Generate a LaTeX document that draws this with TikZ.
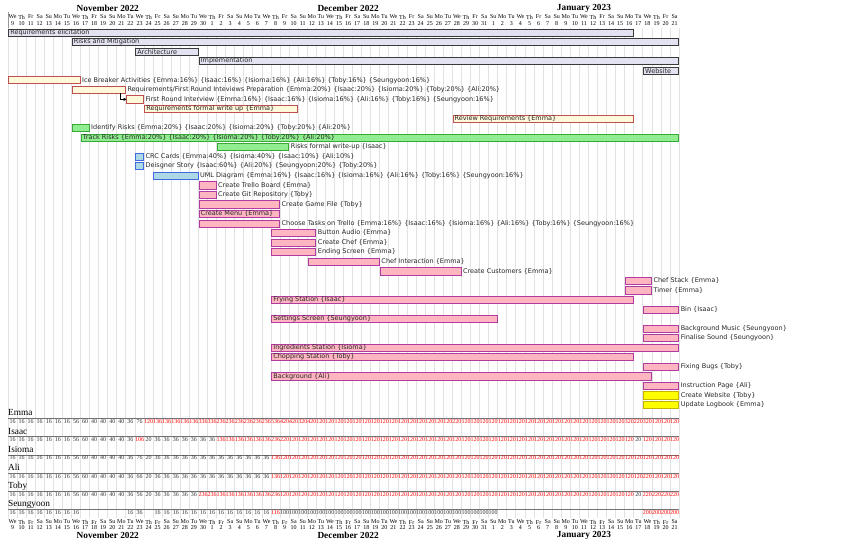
\documentclass[tikz,border=0pt]{standalone}
\usepackage{fontspec}
\setmainfont[Ligatures={NoCommon,NoRare}]{Liberation Serif}
\newfontfamily\ganttfont{DejaVu Sans}
\usetikzlibrary{arrows.meta, positioning}
\definecolor{grpfill}{HTML}{E2E2F0}
\definecolor{grpdraw}{HTML}{3A3A3A}
\definecolor{reqfill}{HTML}{FFF9DC}
\definecolor{reqdraw}{HTML}{C05050}
\definecolor{riskfill}{HTML}{90EE90}
\definecolor{riskdraw}{HTML}{38A838}
\definecolor{dsnfill}{HTML}{ADD8E6}
\definecolor{dsndraw}{HTML}{4169E1}
\definecolor{implfill}{HTML}{FFB6C1}
\definecolor{impldraw}{HTML}{B03CA0}
\definecolor{webfill}{HTML}{FFFF00}
\definecolor{webdraw}{HTML}{C8B400}
\definecolor{gridgray}{HTML}{E2E2E2}
\definecolor{loadred}{HTML}{FF0000}
\definecolor{loadgray}{HTML}{333333}

% one row of daily loads: name, y, values (0 = empty)
\newcommand{\loadrow}[3]{%
  \foreach \v [count=\i from 0] in {#3}{%
    \ifnum\v>0
      \ifnum\v>100 \def\lc{loadred}\else\def\lc{loadgray}\fi
      \node[ld, text=\lc] (#1\i) at (\i+0.5,#2) {\v};
    \fi}}

\begin{document}
\begin{tikzpicture}[
  x=9.07pt, y=-9.55pt,
  bar/.style ={draw, line width=0.7pt, minimum height=7.2pt, inner sep=0pt,
               outer sep=0pt, anchor=west, xshift=0.6pt},
  len/.style ={minimum width={#1*9.07pt-1.2pt}},
  grp/.style ={bar, fill=grpfill,  draw=grpdraw},
  req/.style ={bar, fill=reqfill,  draw=reqdraw},
  rsk/.style ={bar, fill=riskfill, draw=riskdraw},
  dsn/.style ={bar, fill=dsnfill,  draw=dsndraw},
  imp/.style ={bar, fill=implfill, draw=impldraw},
  web/.style ={bar, fill=webfill,  draw=webdraw},
  lbl/.style ={font=\ganttfont\fontsize{6.5}{7}\selectfont, inner sep=0pt,
               text=black!85},
  mon/.style ={font=\bfseries\fontsize{9.3}{10}\selectfont, inner sep=0pt},
  dow/.style ={font=\fontsize{6}{6}\selectfont, inner sep=0pt},
  ld/.style  ={font=\fontsize{6}{6}\selectfont, inner sep=0pt},
  who/.style ={font=\fontsize{9.3}{10}\selectfont, inner sep=0pt, anchor=west},
  grid/.style={draw=gridgray, line width=0.9pt},
  resl/.style={draw=black!55, line width=1pt},
  dep/.style ={-{Triangle[length=3pt,width=3pt]}, line width=0.6pt, black}
]
\useasboundingbox (-8pt,32.5pt) rectangle (849pt,-518.5pt);

%% ─── calendar ──────────────────────────────────────────────────────────────
\foreach \d in {0,...,74}
  \draw[grid] (\d,-0.47) -- (\d,50.84);
\draw[draw=black!40, line width=0.5pt] (0,-2.1) -- (0,-0.47);

\node[mon] (nov_t) at (11,-2.53)   {November 2022};
\node[mon] (dec_t) at (37.5,-2.53) {December 2022};
\node[mon] (jan_t) at (63.5,-2.53) {January 2023};
\node[mon] (nov_b) at (11,52.67)   {November 2022};
\node[mon] (dec_b) at (37.5,52.67) {December 2022};
\node[mon] (jan_b) at (63.5,52.67) {January 2023};

\foreach \d in {0,...,73}{
  \pgfmathtruncatemacro\wk{mod(\d,7)}
  \pgfmathtruncatemacro\dn{\d<22 ? \d+9 : (\d<53 ? \d-21 : \d-52)}
  \node[dow] (tw\d) at (\d+0.5,-1.62)
    {\ifcase\wk We\or Th\or Fr\or Sa\or Su\or Mo\or Tu\fi};
  \node[dow] (tn\d) at (\d+0.5,-0.89) {\dn};
  \node[dow] (bw\d) at (\d+0.5,51.26)
    {\ifcase\wk We\or Th\or Fr\or Sa\or Su\or Mo\or Tu\fi};
  \node[dow] (bn\d) at (\d+0.5,51.88) {\dn};
}

%% ─── phases ────────────────────────────────────────────────────────────────
\node[grp, len=69] (elic) at (0,0)  {};
\node[lbl, right=1.5pt of elic.west] (elic_l) {Requirements elicitation};
\node[grp, len=67] (risk) at (7,1)  {};
\node[lbl, right=1.5pt of risk.west] (risk_l) {Risks and Mitigation};
\node[grp, len=7]  (arch) at (14,2) {};
\node[lbl, right=1.5pt of arch.west] (arch_l) {Architecture};
\node[grp, len=53] (impl) at (21,3) {};
\node[lbl, right=1.5pt of impl.west] (impl_l) {Implementation};
\node[grp, len=4]  (site) at (70,4) {};
\node[lbl, right=1.5pt of site.west] (site_l) {Website};

%% ─── requirements ──────────────────────────────────────────────────────────
\node[req, len=8]  (ice)    at (0,5)  {};
\node[lbl, right=2pt of ice] (ice_l)
  {Ice Breaker Activities \{Emma:16\%\} \{Isaac:16\%\} \{Isioma:16\%\} \{Ali:16\%\} \{Toby:16\%\} \{Seungyoon:16\%\}};
\node[req, len=6]  (prep)   at (7,6)  {};
\node[lbl, right=2pt of prep] (prep_l)
  {Requirements/First Round Inteviews Preparation \{Emma:20\%\} \{Isaac:20\%\} \{Isioma:20\%\} \{Toby:20\%\} \{Ali:20\%\}};
\node[req, len=2]  (fri)    at (13,7) {};
\node[lbl, right=2pt of fri] (fri_l)
  {First Round Interview \{Emma:16\%\} \{Isaac:16\%\} \{Isioma:16\%\} \{Ali:16\%\} \{Toby:16\%\} \{Seungyoon:16\%\}};
\node[req, len=17] (rfw)    at (15,8) {};
\node[lbl, right=1.5pt of rfw.west] (rfw_l) {Requirements formal write up \{Emma\}};
\node[req, len=20] (review) at (49,9) {};
\node[lbl, right=1.5pt of review.west] (review_l) {Review Requirements \{Emma\}};

\draw[dep] ([xshift=-5pt]prep.south east) |- (fri.west);

%% ─── risks ─────────────────────────────────────────────────────────────────
\node[rsk, len=2]  (ident)  at (7,10) {};
\node[lbl, right=2pt of ident] (ident_l)
  {Identify Risks \{Emma:20\%\} \{Isaac:20\%\} \{Isioma:20\%\} \{Toby:20\%\} \{Ali:20\%\}};
\node[rsk, len=66] (track)  at (8,11) {};
\node[lbl, right=1.5pt of track.west] (track_l)
  {Track Risks \{Emma:20\%\} \{Isaac:20\%\} \{Isioma:20\%\} \{Toby:20\%\} \{Ali:20\%\}};
\node[rsk, len=8]  (rwrite) at (23,12) {};
\node[lbl, right=2pt of rwrite] (rwrite_l) {Risks formal write-up \{Isaac\}};

%% ─── architecture ──────────────────────────────────────────────────────────
\node[dsn, len=1] (crc)   at (14,13) {};
\node[lbl, right=2pt of crc] (crc_l)
  {CRC Cards \{Emma:40\%\} \{Isioma:40\%\} \{Isaac:10\%\} \{Ali:10\%\}};
\node[dsn, len=1] (story) at (14,14) {};
\node[lbl, right=2pt of story] (story_l)
  {Deisgner Story \{Isaac:60\%\} \{Ali:20\%\} \{Seungyoon:20\%\} \{Toby:20\%\}};
\node[dsn, len=5] (uml)   at (16,15) {};
\node[lbl, right=2pt of uml] (uml_l)
  {UML Diagram \{Emma:16\%\} \{Isaac:16\%\} \{Isioma:16\%\} \{Ali:16\%\} \{Toby:16\%\} \{Seungyoon:16\%\}};

%% ─── implementation ────────────────────────────────────────────────────────
\node[imp, len=2]  (trello)  at (21,16) {};
\node[lbl, right=2pt of trello] (trello_l) {Create Trello Board \{Emma\}};
\node[imp, len=2]  (git)     at (21,17) {};
\node[lbl, right=2pt of git] (git_l) {Create Git Repository \{Toby\}};
\node[imp, len=9]  (game)    at (21,18) {};
\node[lbl, right=2pt of game] (game_l) {Create Game File \{Toby\}};
\node[imp, len=9]  (menu)    at (21,19) {};
\node[lbl, right=1.5pt of menu.west] (menu_l) {Create Menu \{Emma\}};
\node[imp, len=9]  (choose)  at (21,20) {};
\node[lbl, right=2pt of choose] (choose_l)
  {Choose Tasks on Trello \{Emma:16\%\} \{Isaac:16\%\} \{Isioma:16\%\} \{Ali:16\%\} \{Toby:16\%\} \{Seungyoon:16\%\}};
\node[imp, len=5]  (audio)   at (29,21) {};
\node[lbl, right=2pt of audio] (audio_l) {Button Audio \{Emma\}};
\node[imp, len=5]  (chef)    at (29,22) {};
\node[lbl, right=2pt of chef] (chef_l) {Create Chef \{Emma\}};
\node[imp, len=5]  (ending)  at (29,23) {};
\node[lbl, right=2pt of ending] (ending_l) {Ending Screen \{Emma\}};
\node[imp, len=8]  (chefint) at (33,24) {};
\node[lbl, right=2pt of chefint] (chefint_l) {Chef Interaction \{Emma\}};
\node[imp, len=9]  (cust)    at (41,25) {};
\node[lbl, right=2pt of cust] (cust_l) {Create Customers \{Emma\}};
\node[imp, len=3]  (stack)   at (68,26) {};
\node[lbl, right=2pt of stack] (stack_l) {Chef Stack \{Emma\}};
\node[imp, len=3]  (timer)   at (68,27) {};
\node[lbl, right=2pt of timer] (timer_l) {Timer \{Emma\}};
\node[imp, len=40] (frying)  at (29,28) {};
\node[lbl, right=1.5pt of frying.west] (frying_l) {Frying Station \{Isaac\}};
\node[imp, len=4]  (bin)     at (70,29) {};
\node[lbl, right=2pt of bin] (bin_l) {Bin \{Isaac\}};
\node[imp, len=25] (settings) at (29,30) {};
\node[lbl, right=1.5pt of settings.west] (settings_l) {Settings Screen \{Seungyoon\}};
\node[imp, len=4]  (bgmusic) at (70,31) {};
\node[lbl, right=2pt of bgmusic] (bgmusic_l) {Background Music \{Seungyoon\}};
\node[imp, len=4]  (finsnd)  at (70,32) {};
\node[lbl, right=2pt of finsnd] (finsnd_l) {Finalise Sound \{Seungyoon\}};
\node[imp, len=45] (ingred)  at (29,33) {};
\node[lbl, right=1.5pt of ingred.west] (ingred_l) {Ingredients Station \{Isioma\}};
\node[imp, len=40] (chop)    at (29,34) {};
\node[lbl, right=1.5pt of chop.west] (chop_l) {Chopping Station \{Toby\}};
\node[imp, len=4]  (bugs)    at (70,35) {};
\node[lbl, right=2pt of bugs] (bugs_l) {Fixing Bugs \{Toby\}};
\node[imp, len=42] (backg)   at (29,36) {};
\node[lbl, right=1.5pt of backg.west] (backg_l) {Background \{Ali\}};
\node[imp, len=4]  (instr)   at (70,37) {};
\node[lbl, right=2pt of instr] (instr_l) {Instruction Page \{Ali\}};
\node[web, len=4]  (mksite)  at (70,38) {};
\node[lbl, right=2pt of mksite] (mksite_l) {Create Website \{Toby\}};
\node[web, len=4]  (logbook) at (70,39) {};
\node[lbl, right=2pt of logbook] (logbook_l) {Update Logbook \{Emma\}};

%% ─── resource load ─────────────────────────────────────────────────────────
\foreach \n/\k in {Emma/0, Isaac/1, Isioma/2, Ali/3, Toby/4, Seungyoon/5}{
  \node[who] (who\k) at (0,39.84+1.906*\k) {\n};
  \draw[resl] (0,40.44+1.906*\k) -- (74,40.44+1.906*\k);
}

\loadrow{emma}{40.73}{16,16,16,16,16,16,16,56,60,40,
  40,40,40,36,76,120,136,136,136,136,
  136,336,336,236,236,236,236,236,236,536,
  420,420,320,420,120,120,120,120,120,120,
  120,120,120,120,120,120,120,120,120,220,
  120,120,120,120,120,120,120,120,120,120,
  120,120,120,120,120,120,120,120,320,220,
  320,120,120,120}
\loadrow{isaac}{42.64}{16,16,16,16,16,16,16,56,60,40,
  40,40,40,36,106,20,36,36,36,36,
  36,36,36,136,136,136,136,136,136,236,
  220,120,120,120,120,120,120,120,120,120,
  120,120,120,120,120,120,120,120,120,120,
  120,120,120,120,120,120,120,120,120,120,
  120,120,120,120,120,120,120,120,120,20,
  120,120,120,120}
\loadrow{isioma}{44.54}{16,16,16,16,16,16,16,56,60,40,
  40,40,40,36,76,20,36,36,36,36,
  36,36,36,36,36,36,36,36,36,136,
  120,120,120,120,120,120,120,120,120,120,
  120,120,120,120,120,120,120,120,120,120,
  120,120,120,120,120,120,120,120,120,120,
  120,120,120,120,120,120,120,120,120,120,
  120,120,120,120}
\loadrow{ali}{46.45}{16,16,16,16,16,16,16,56,60,40,
  40,40,40,36,66,20,36,36,36,36,
  36,36,36,36,36,36,36,36,36,136,
  120,120,120,120,120,120,120,120,120,120,
  120,120,120,120,120,120,120,120,120,120,
  120,120,120,120,120,120,120,120,120,120,
  120,120,120,120,120,120,120,120,120,120,
  220,120,120,120}
\loadrow{toby}{48.35}{16,16,16,16,16,16,16,56,60,40,
  40,40,40,36,56,20,36,36,36,36,
  36,236,236,136,136,136,136,136,136,236,
  120,120,120,120,120,120,120,120,120,120,
  120,120,120,120,120,120,120,120,120,120,
  120,120,120,120,120,120,120,120,120,120,
  120,120,120,120,120,120,120,120,120,20,
  220,220,220,220}
\loadrow{seung}{50.26}{16,16,16,16,16,16,16,16,0,0,
  0,0,0,16,36,0,16,16,16,16,
  16,16,16,16,16,16,16,16,16,116,
  100,100,100,100,100,100,100,100,100,100,
  100,100,100,100,100,100,100,100,100,100,
  100,100,100,100,0,0,0,0,0,0,
  0,0,0,0,0,0,0,0,0,0,
  200,200,200,200}

\end{tikzpicture}
\end{document}
